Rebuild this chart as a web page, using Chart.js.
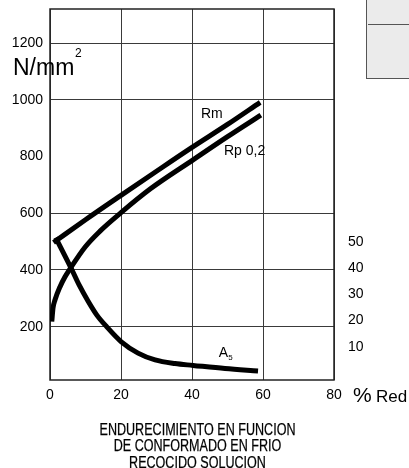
<!DOCTYPE html>
<html lang="es">
<head>
    <meta charset="UTF-8">
    <title>Endurecimiento en función de conformado en frío</title>
    <script src="https://cdn.jsdelivr.net/npm/chart.js"></script>
    <style>
        body {
            margin: 0;
            padding: 0;
            background-color: #fff;
        }

        .wrap {
            position: relative;
            width: 409px;
            height: 468px;
            overflow: hidden;
        }

        .corner-box {
            position: absolute;
            left: 366px;
            top: -1px;
            width: 60px;
            height: 78px;
            background-color: #ebebeb;
            border: 1px solid #555;
        }

        .corner-box .sep {
            position: absolute;
            left: 1px;
            top: 24px;
            width: 100%;
            border-top: 1px solid #555;
        }
    </style>
</head>
<body>
    <div class="wrap">
        <canvas id="chart" width="409" height="468"></canvas>
        <div class="corner-box"><div class="sep"></div></div>
    </div>

    <script>
        // ticks
        const xTicks = [0, 20, 40, 60, 80];
        const leftTicks = [200, 400, 600, 800, 1000, 1200];
        const rightTicks = [10, 20, 30, 40, 50];

        // Rm (N/mm2) vs % reduccion
        const rmX = [1, 10, 20, 30, 40, 50, 59.2];
        const rmY = [497, 577, 663, 748, 832, 913, 991];

        // Rp 0,2 (N/mm2)
        const rpX = [0.5, 0.85, 1.4, 2.8, 4.2, 5.6, 9.9, 14.1, 20, 28.2, 40.3, 49.9, 59.4];
        const rpY = [218, 266, 294, 340, 375, 403, 481, 537, 602, 685, 788, 869, 946];

        // A5 (%) - eje derecho
        const a5X = [1.6, 6.1, 8.2, 10.7, 13.2, 16, 20, 24.8, 29.6, 35.2, 40.3, 49.3, 58.6];
        const a5Y = [51.7, 39.6, 33.6, 27.5, 22.1, 17.6, 12, 7.6, 5, 3.6, 2.9, 1.7, 0.8];

        const titleLines = ['ENDURECIMIENTO EN FUNCION', 'DE CONFORMADO EN FRIO', 'RECOCIDO SOLUCION'];

        const tickFont = { family: "'Liberation Sans', Arial, sans-serif", size: 14 };

        function points(xs, ys) {
            return xs.map((x, i) => ({ x: x, y: ys[i] }));
        }

        function curve(label, xs, ys, axis) {
            return {
                label: label,
                data: points(xs, ys),
                yAxisID: axis,
                borderColor: '#000',
                borderWidth: 5,
                borderCapStyle: 'butt',
                borderJoinStyle: 'round',
                pointRadius: 0,
                fill: false,
                cubicInterpolationMode: 'monotone'
            };
        }

        function setTicks(list) {
            return function(scale) {
                scale.ticks = list.map(v => ({ value: v }));
            };
        }

        // sin relleno extra alrededor de los ejes
        function fixSize(prop, size) {
            return function(scale) {
                scale[prop] = size;
                scale.paddingTop = 0;
                scale.paddingBottom = 0;
                scale.paddingLeft = 0;
                scale.paddingRight = 0;
            };
        }

        // marco y textos sueltos
        const extras = {
            id: 'extras',
            beforeDatasetsDraw(chart) {
                const a = chart.chartArea;
                const ctx = chart.ctx;
                ctx.save();
                ctx.strokeStyle = '#222';
                ctx.lineWidth = 1.5;
                ctx.strokeRect(a.left, a.top, a.right - a.left, a.bottom - a.top);
                ctx.restore();
            },
            afterDraw(chart) {
                const ctx = chart.ctx;
                const sx = chart.scales.x, sy = chart.scales.y, sy2 = chart.scales.y2;
                ctx.save();
                ctx.fillStyle = '#000';
                ctx.strokeStyle = '#000';

                // N/mm2
                ctx.textAlign = 'left';
                ctx.textBaseline = 'alphabetic';
                ctx.font = "23px 'Liberation Sans', Arial, sans-serif";
                ctx.fillText('N/mm', 13, 75);
                ctx.font = "12px 'Liberation Sans', Arial, sans-serif";
                ctx.fillText('2', 75, 57);

                // etiquetas de curvas
                ctx.textAlign = 'center';
                ctx.textBaseline = 'middle';
                ctx.font = "14px 'Liberation Sans', Arial, sans-serif";
                ctx.fillText('Rm', sx.getPixelForValue(45.6), sy.getPixelForValue(950));
                ctx.fillText('Rp 0,2', sx.getPixelForValue(54.8), sy.getPixelForValue(819));
                const ax = sx.getPixelForValue(49.4), ay = sy2.getPixelForValue(7.4);
                ctx.fillText('A', ax - 2, ay);
                ctx.font = "8px 'Liberation Sans', Arial, sans-serif";
                ctx.fillText('5', ax + 5, ay + 4);

                // % Red
                ctx.textAlign = 'left';
                ctx.textBaseline = 'alphabetic';
                ctx.font = "21px 'Liberation Sans', Arial, sans-serif";
                ctx.fillText('%', 353, 402);
                ctx.font = "17px 'Liberation Sans', Arial, sans-serif";
                ctx.fillText('Red', 376, 402);

                // titulo (estrechado)
                ctx.textAlign = 'center';
                ctx.font = "16px 'Liberation Sans', Arial, sans-serif";
                const k = 196 / ctx.measureText(titleLines[0]).width;
                ctx.lineWidth = 0.25;
                titleLines.forEach((t, i) => {
                    ctx.save();
                    ctx.translate(197.5, 435 + i * 16.4);
                    ctx.scale(k, 1);
                    ctx.fillText(t, 0, 0);
                    ctx.strokeText(t, 0, 0);
                    ctx.restore();
                });
                ctx.restore();
            }
        };

        new Chart(document.getElementById('chart'), {
            type: 'line',
            data: {
                datasets: [
                    curve('Rm', rmX, rmY, 'y'),
                    curve('Rp 0,2', rpX, rpY, 'y'),
                    curve('A5', a5X, a5Y, 'y2')
                ]
            },
            options: {
                responsive: false,
                animation: false,
                devicePixelRatio: 1,
                layout: { padding: { top: 9, left: 0, right: 0, bottom: 0 } },
                plugins: {
                    legend: { display: false },
                    tooltip: { enabled: false }
                },
                scales: {
                    x: {
                        type: 'linear',
                        min: 0,
                        max: 80,
                        afterBuildTicks: setTicks(xTicks),
                        afterFit: fixSize('height', 88),
                        border: { display: false },
                        grid: { color: '#3a3a3a', lineWidth: 1, drawTicks: false },
                        ticks: { color: '#000', font: tickFont, padding: 7, maxRotation: 0, callback: v => String(v) }
                    },
                    y: {
                        position: 'left',
                        min: 12,
                        max: 1320,
                        afterBuildTicks: setTicks(leftTicks),
                        afterFit: fixSize('width', 50),
                        border: { display: false },
                        grid: {
                            color: ctx => (ctx.tick && ctx.tick.value === 800) ? 'rgba(0,0,0,0)' : '#3a3a3a',
                            lineWidth: 1,
                            drawTicks: false
                        },
                        ticks: { color: '#000', font: tickFont, padding: 7, callback: v => String(v) }
                    },
                    y2: {
                        position: 'right',
                        min: -2.67,
                        max: 138.9,
                        afterBuildTicks: setTicks(rightTicks),
                        afterFit: fixSize('width', 75),
                        border: { display: false },
                        grid: { display: false, drawTicks: false },
                        ticks: { color: '#000', font: tickFont, padding: 14, callback: v => String(v) }
                    }
                }
            },
            plugins: [extras]
        });
    </script>
</body>
</html>
